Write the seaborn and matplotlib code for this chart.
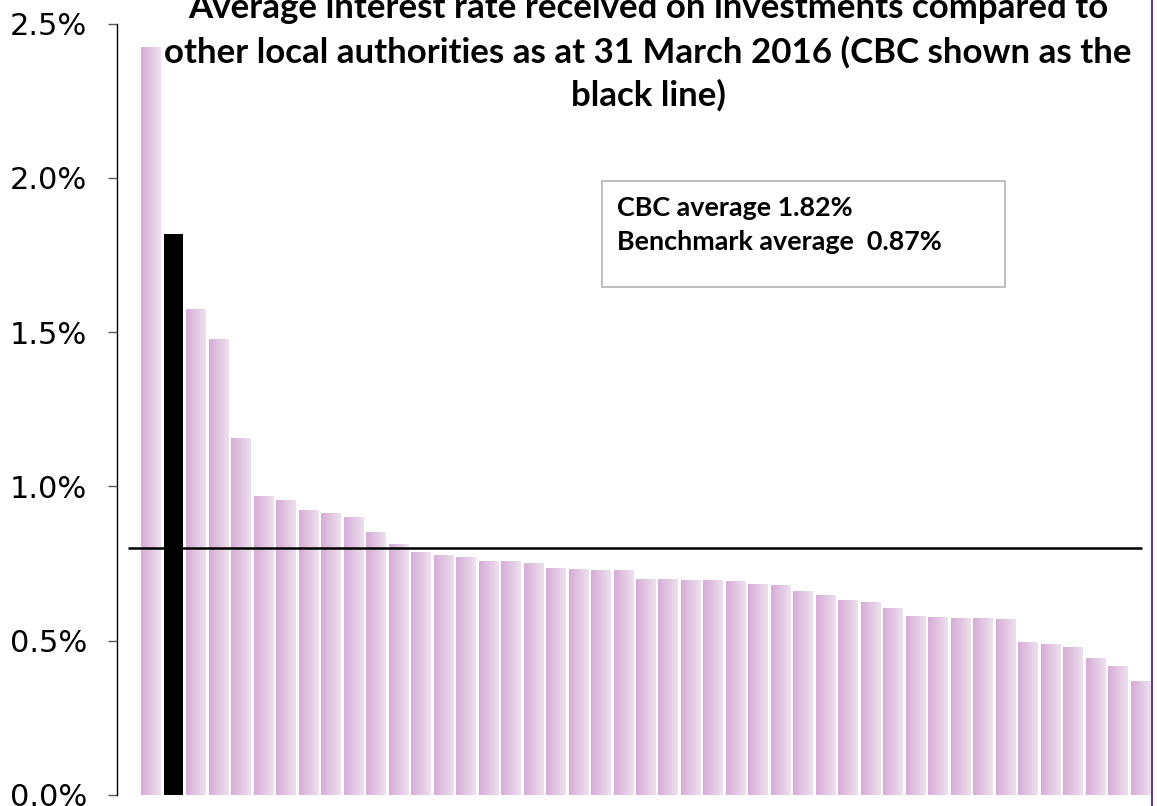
import numpy as np
import pandas as pd
import matplotlib
matplotlib.use("Agg")
import matplotlib.pyplot as plt
import seaborn as sns
from matplotlib.colors import LinearSegmentedColormap
from matplotlib.patches import Rectangle
from matplotlib.lines import Line2D
from matplotlib.ticker import FuncFormatter

# ---------------- data ----------------
authorities = ["LA01", "CBC"] + [f"LA{i:02d}" for i in range(2, 45)]
rates = [2.425, 1.818, 1.575, 1.478, 1.157, 0.969, 0.956, 0.923, 0.914, 0.901,
         0.852, 0.813, 0.787, 0.778, 0.771, 0.758, 0.758, 0.752, 0.736, 0.732,
         0.729, 0.729, 0.700, 0.700, 0.697, 0.697, 0.693, 0.684, 0.680, 0.661,
         0.648, 0.632, 0.625, 0.606, 0.580, 0.577, 0.574, 0.574, 0.570, 0.496,
         0.489, 0.480, 0.444, 0.418, 0.369]
groups = ["CBC" if a == "CBC" else "Other" for a in authorities]
benchmark_line = 0.80
y_ticks = [0.0, 0.5, 1.0, 1.5, 2.0, 2.5]
title_lines = ["Average interest rate received on investments compared to",
               "other local authorities as at 31 March 2016 (CBC shown as the",
               "black line)"]
box_lines = ["CBC average 1.82%", "Benchmark average  0.87%"]

df = pd.DataFrame({"authority": authorities, "rate": rates, "group": groups})

# ---------------- style ----------------
sns.set_theme(style="white")
plt.rcParams["font.family"] = ["DejaVu Sans"]

W, H = 1157, 806
fig = plt.figure(figsize=(W / 100, H / 100), dpi=100)
fig.patch.set_facecolor("white")

ax_left, ax_right = 117 / W, 1153 / W
ax_bottom, ax_top = 1 - 795 / H, 1 - 23.5 / H
ax = fig.add_axes([ax_left, ax_bottom, ax_right - ax_left, ax_top - ax_bottom])
ax.set_facecolor("white")

sns.barplot(data=df, x="authority", y="rate", hue="group", order=authorities,
            palette={"CBC": "black", "Other": "#dcb6dc"}, dodge=False,
            width=0.85, legend=False, ax=ax, saturation=1, linewidth=0)

# gradient fill for pink bars
cmap = LinearSegmentedColormap.from_list("pinkgrad", ["#d6acd6", "#eee0ef"])
grad = np.linspace(0, 1, 64).reshape(1, -1)
for patch in ax.patches:
    fc = patch.get_facecolor()
    if fc[0] < 0.2:  # black CBC bar
        continue
    x0, w, h = patch.get_x(), patch.get_width(), patch.get_height()
    im = ax.imshow(grad, extent=[x0, x0 + w, 0, h], aspect="auto", cmap=cmap,
                   origin="lower", zorder=patch.get_zorder() + 0.1,
                   interpolation="bilinear")
    im.set_clip_path(patch)

# benchmark line
ax.hlines(benchmark_line, -1.02, 44.08, color="black", lw=1.8, zorder=5)

first_c, step = 151, 22.48
ax.set_xlim((117 - first_c) / step, (1153 - first_c) / step)
ax.set_ylim(0, 2.5)
ax.set_yticks(y_ticks)
ax.yaxis.set_major_formatter(FuncFormatter(lambda v, p: f"{v:.1f}%"))
ax.tick_params(axis="y", which="both", left=True, length=6.5, width=1,
               color="#595959", pad=15, labelsize=22, labelcolor="black",
               direction="out")
ax.set_xticks([])
ax.set_xlabel("")
ax.set_ylabel("")
for s in ["top", "right", "bottom"]:
    ax.spines[s].set_visible(False)
ax.spines["left"].set_color("black")
ax.spines["left"].set_linewidth(1)

# ---------------- title ----------------
renderer = fig.canvas.get_renderer()
title_font = ["Lato", "DejaVu Sans"]
t_objs = []
baselines = [18, 63, 106]
for line, b in zip(title_lines, baselines):
    t = fig.text(648 / W, 1 - b / H, line, ha="center", va="baseline",
                 fontsize=22, fontweight="bold", family=title_font, color="black")
    t_objs.append(t)
wt = t_objs[1].get_window_extent(renderer).width
scale = 966 / wt
for t in t_objs:
    t.set_fontsize(22 * scale)

# ---------------- annotation box ----------------
fig.patches.append(Rectangle((602 / W, 1 - 287 / H), 403 / W, 106 / H,
                             transform=fig.transFigure, facecolor="white",
                             edgecolor="#bfbfbf", lw=1.4, zorder=6))
b_objs = []
for line, cy in zip(box_lines, [208, 242]):
    t = fig.text(617 / W, 1 - cy / H, line, ha="left", va="center",
                 fontsize=16, fontweight="bold", family=title_font,
                 color="black", zorder=7)
    b_objs.append(t)
wb = b_objs[0].get_window_extent(renderer).width
sb = 236 / wb
for t in b_objs:
    t.set_fontsize(16 * sb)

# chart frame edge on the right
fig.lines.append(Line2D([1152 / W, 1152 / W], [0, 1], transform=fig.transFigure,
                        color="#5f3f8f", lw=1.5))

fig.savefig("out.png", dpi=100)
